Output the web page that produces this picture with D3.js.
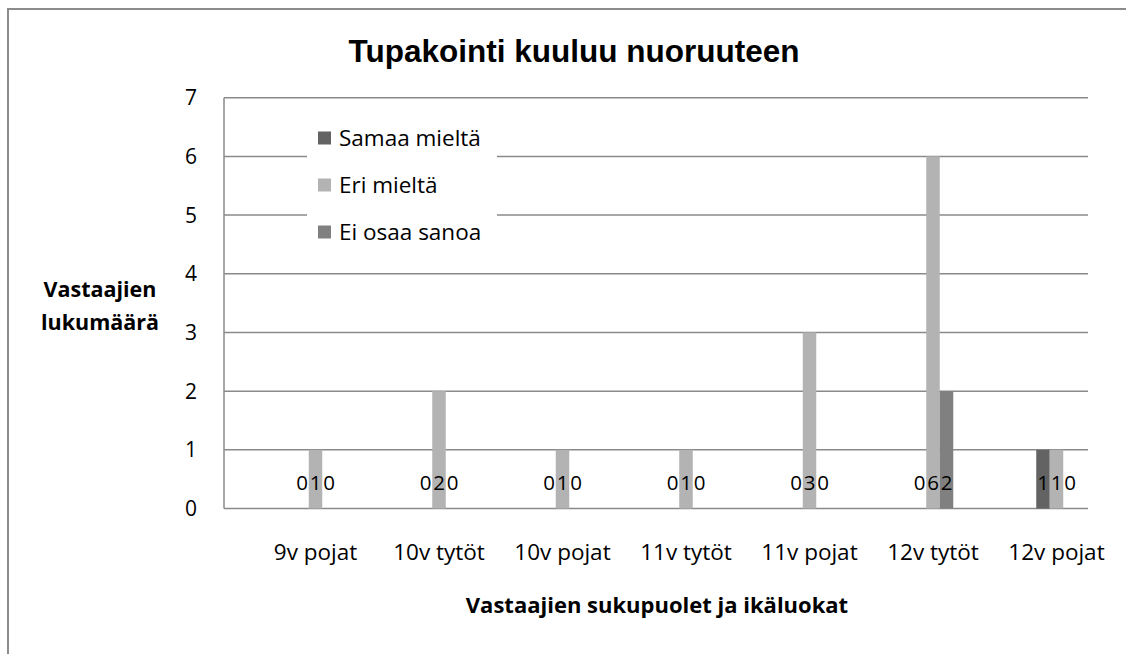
<!DOCTYPE html>
<html><head><meta charset="utf-8">
<script src="https://cdn.jsdelivr.net/npm/d3@7"></script>
<style>body{margin:0;background:#fff}svg{display:block}</style>
</head><body>
<svg id="chart" width="1126" height="654"></svg>
<script>
const categories = ["9v pojat","10v tytöt","10v pojat","11v tytöt","11v pojat","12v tytöt","12v pojat"];
const seriesNames = ["Samaa mieltä","Eri mieltä","Ei osaa sanoa"];
const samaa = [0,0,0,0,0,0,1];
const eri = [1,2,1,1,3,6,1];
const eiOsaa = [0,0,0,0,0,2,0];
const yTicks = [0,1,2,3,4,5,6,7];
const colors = ["#636363","#b3b3b3","#808080"];
const seriesValues = [samaa, eri, eiOsaa];

const svg = d3.select("#chart");
const font = "'Open Sans', Lato, sans-serif";

// outer border
svg.append("rect").attr("x",8).attr("y",9).attr("width",1300).attr("height",900)
  .attr("fill","#fff").attr("stroke","#8c8c8c").attr("stroke-width",2);

const y = d3.scaleLinear().domain([0,7]).range([508.5,97.7]);
const gridX0 = 224, gridX1 = 1088;
const x = d3.scaleBand().domain(categories).range([253.75,1118.25]);
const xi = d3.scaleBand().domain(seriesNames).range([-20.25,20.25]);

// gridlines
svg.append("g").selectAll("line").data(yTicks).join("line")
  .attr("x1",gridX0).attr("x2",gridX1)
  .attr("y1",d=>y(d)).attr("y2",d=>y(d))
  .attr("stroke","#8a8a8a").attr("stroke-width",1.5);
// y axis line
svg.append("line").attr("x1",gridX0).attr("x2",gridX0).attr("y1",y(7)).attr("y2",y(0))
  .attr("stroke","#8a8a8a").attr("stroke-width",1.5);

// y tick labels
svg.append("g").selectAll("text").data(yTicks).join("text")
  .attr("x",197).attr("y",d=>y(d)+7.5).attr("text-anchor","end")
  .attr("font-family",font).attr("font-size",21).attr("fill","#000").text(d=>d);

// bars
const data = [];
categories.forEach((c,i)=>seriesNames.forEach((s,j)=>data.push({c,s,j,v:seriesValues[j][i]})));
svg.append("g").selectAll("rect").data(data.filter(d=>d.v>0)).join("rect")
  .attr("x",d=>x(d.c)+x.bandwidth()/2+xi(d.s))
  .attr("width",xi.bandwidth())
  .attr("y",d=>y(d.v)).attr("height",d=>y(0)-y(d.v))
  .attr("fill",d=>colors[d.j]);

// data labels (inside base)
svg.append("g").selectAll("text").data(data).join("text")
  .attr("x",d=>x(d.c)+x.bandwidth()/2+xi(d.s)+xi.bandwidth()/2)
  .attr("y",y(0)-18.5).attr("text-anchor","middle")
  .attr("font-family",font).attr("font-size",20.5).attr("fill","#000").text(d=>d.v);

// category labels
svg.append("g").selectAll("text").data(categories).join("text")
  .attr("x",d=>x(d)+x.bandwidth()/2).attr("y",560).attr("text-anchor","middle")
  .attr("font-family",font).attr("font-size",22.5).attr("fill","#000").text(d=>d);

// title
svg.append("text").attr("x",574).attr("y",62).attr("text-anchor","middle")
  .attr("font-family","'Liberation Sans', Arial, sans-serif").attr("font-weight","bold")
  .attr("font-size",31.5).attr("fill","#000").text("Tupakointi kuuluu nuoruuteen");

// axis titles
svg.append("text").attr("x",657).attr("y",613).attr("text-anchor","middle")
  .attr("font-family",font).attr("font-weight","bold").attr("font-size",22)
  .text("Vastaajien sukupuolet ja ikäluokat");
const yt = svg.append("text").attr("text-anchor","middle")
  .attr("font-family",font).attr("font-weight","bold").attr("font-size",21.5);
yt.append("tspan").attr("x",100).attr("y",297).text("Vastaajien");
yt.append("tspan").attr("x",100).attr("y",330).text("lukumäärä");

// legend
const lg = svg.append("g");
lg.append("rect").attr("x",307).attr("y",118).attr("width",190).attr("height",136).attr("fill","#fff");
seriesNames.forEach((s,j)=>{
  const cy = 138 + j*47;
  lg.append("rect").attr("x",318).attr("y",cy-6.5).attr("width",13).attr("height",13).attr("fill",colors[j]);
  lg.append("text").attr("x",339).attr("y",cy+7.5).attr("font-family",font).attr("font-size",22.5)
    .attr("fill","#000").text(s);
});
</script>
</body></html>
